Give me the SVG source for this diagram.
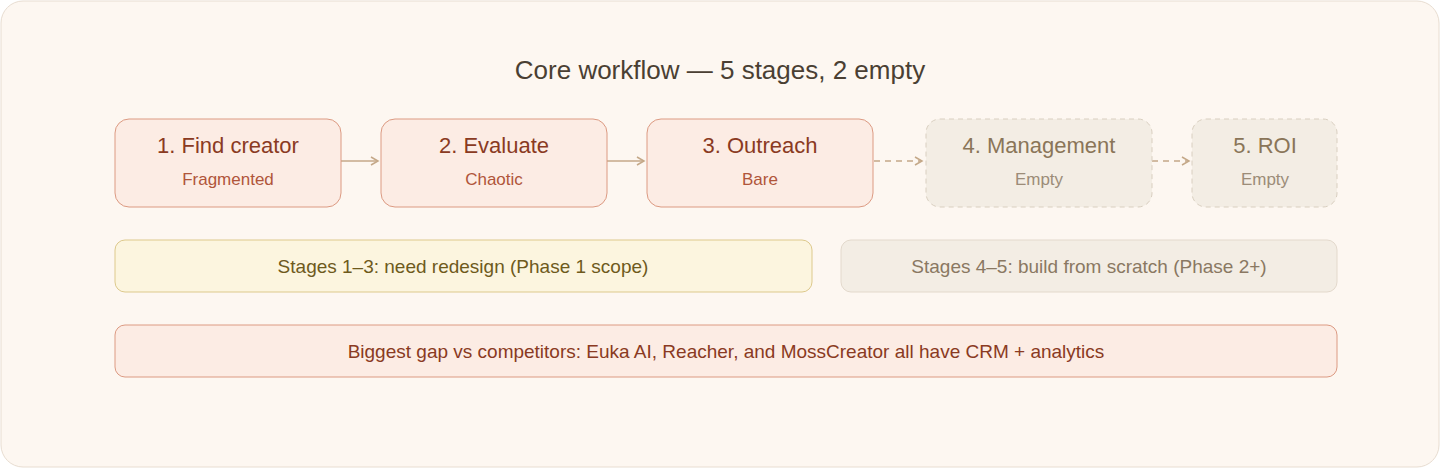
<svg xmlns="http://www.w3.org/2000/svg" width="1440" height="468" viewBox="0 0 1440 468">
<style>
text{font-family:"Liberation Sans",Arial,sans-serif;text-anchor:middle}
.hot{fill:#fcece4;stroke:#dc9a82;stroke-width:1}
.emp{fill:#f3ede4;stroke:#d9cfc0;stroke-width:1;stroke-dasharray:5 4}
.t1{font-size:22px;fill:#8a3a22}
.s1{font-size:17px;fill:#b0553a}
.t2{font-size:22px;fill:#8a7558}
.s2{font-size:17px;fill:#9c8c78}
.c{stroke:#c4a888;stroke-width:1.5;fill:none}
</style>
<defs><marker id="a" markerWidth="10" markerHeight="10" refX="8" refY="5" orient="auto" markerUnits="userSpaceOnUse"><path d="M1,1 L8,5 L1,9" fill="none" stroke="#c4a888" stroke-width="1.5"/></marker></defs>
<rect x="1" y="1" width="1438" height="466" rx="22" fill="#fdf7f1" stroke="#e8ddd1"/>
<text x="720" y="79" style="font-size:26px;fill:#4a3f33">Core workflow — 5 stages, 2 empty</text>
<g id="connectors">
<path class="c" d="M341 161H378" marker-end="url(#a)"/>
<path class="c" d="M607 161H644" marker-end="url(#a)"/>
<path class="c" d="M874 161H922" stroke-dasharray="6 5" marker-end="url(#a)"/>
<path class="c" d="M1152 161H1189" stroke-dasharray="6 5" marker-end="url(#a)"/>
</g>
<g id="n1"><rect class="hot" x="115" y="119" width="226" height="88" rx="14"/><text class="t1" x="228" y="153">1. Find creator</text><text class="s1" x="228" y="185">Fragmented</text></g>
<g id="n2"><rect class="hot" x="381" y="119" width="226" height="88" rx="14"/><text class="t1" x="494" y="153">2. Evaluate</text><text class="s1" x="494" y="185">Chaotic</text></g>
<g id="n3"><rect class="hot" x="647" y="119" width="226" height="88" rx="14"/><text class="t1" x="760" y="153">3. Outreach</text><text class="s1" x="760" y="185">Bare</text></g>
<g id="n4"><rect class="emp" x="926" y="119" width="226" height="88" rx="14"/><text class="t2" x="1039" y="153">4. Management</text><text class="s2" x="1039" y="185">Empty</text></g>
<g id="n5"><rect class="emp" x="1192" y="119" width="145" height="88" rx="14"/><text class="t2" x="1265" y="153">5. ROI</text><text class="s2" x="1265" y="185">Empty</text></g>
<g id="p1"><rect x="115" y="240" width="697" height="52" rx="10" fill="#fcf5df" stroke="#ddc98c"/><text x="463" y="273" style="font-size:19px;fill:#6e5a1c">Stages 1–3: need redesign (Phase 1 scope)</text></g>
<g id="p2"><rect x="841" y="240" width="496" height="52" rx="10" fill="#f3ede4" stroke="#e3d9cc"/><text x="1089" y="273" style="font-size:19px;fill:#8a7862">Stages 4–5: build from scratch (Phase 2+)</text></g>
<g id="gap"><rect x="115" y="325" width="1222" height="52" rx="10" fill="#fcece4" stroke="#dc9a82"/><text x="726" y="358" style="font-size:19px;fill:#8a3a22">Biggest gap vs competitors: Euka AI, Reacher, and MossCreator all have CRM + analytics</text></g>
</svg>
